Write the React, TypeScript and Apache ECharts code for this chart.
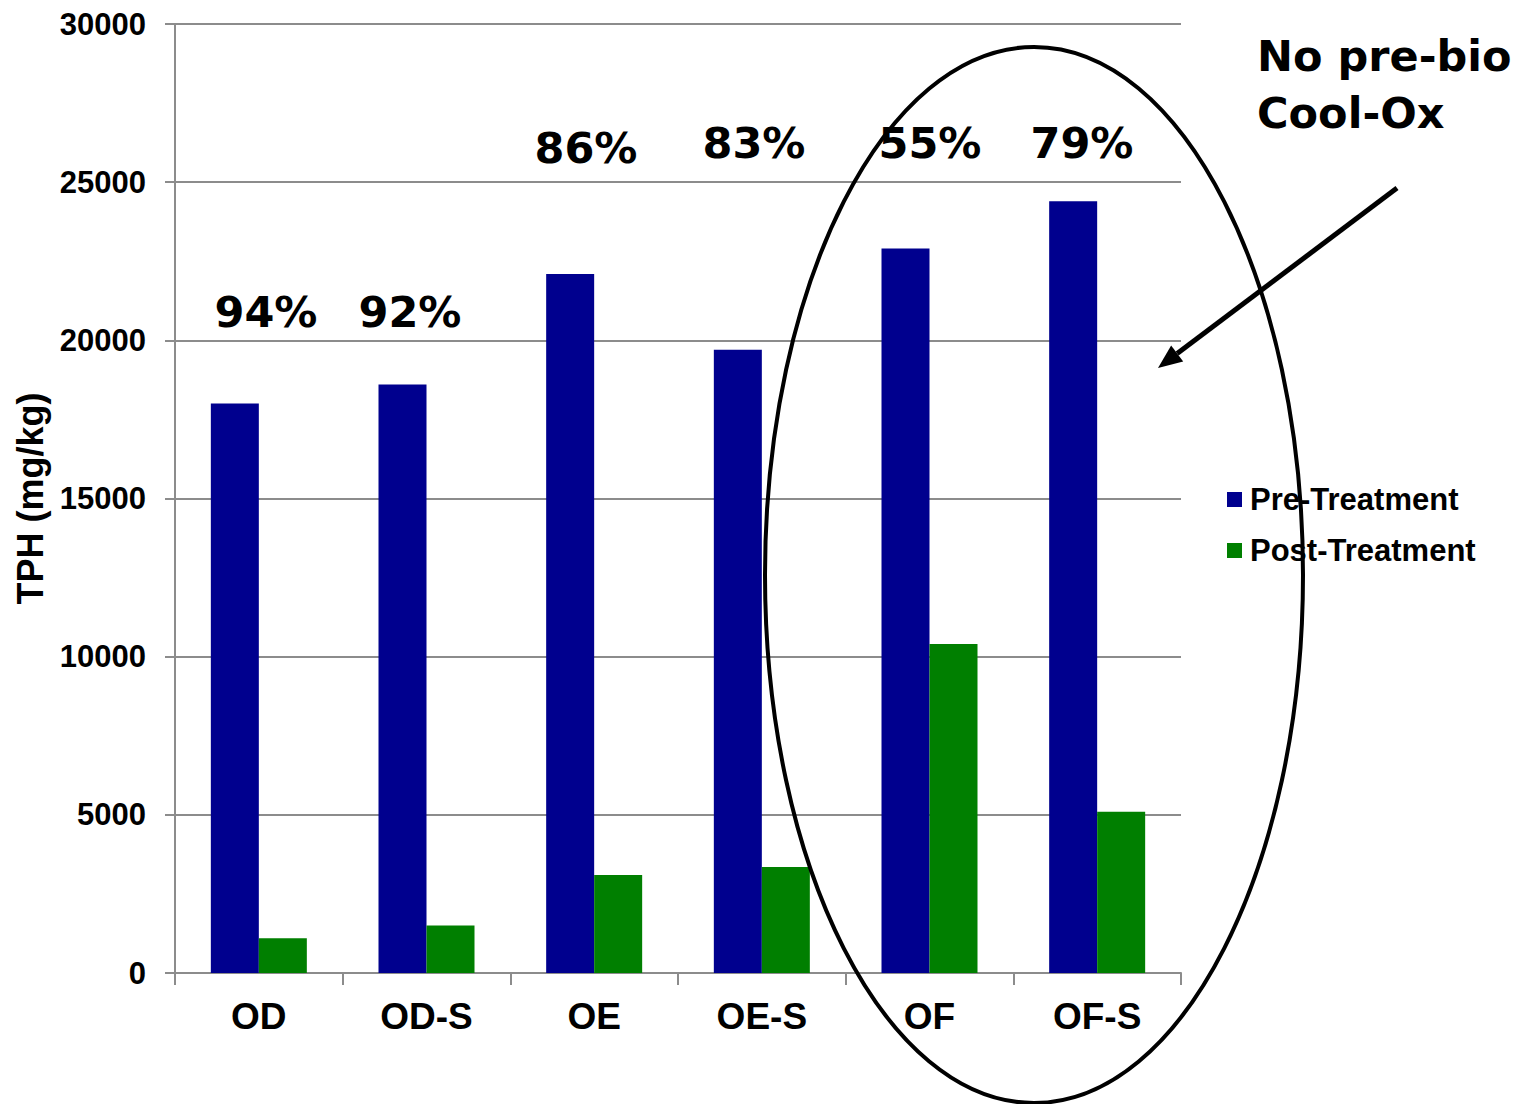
import React, { useEffect, useRef } from "react";
import * as echarts from "echarts";

// Samples and their TPH before / after treatment (mg/kg)
const categories = ["OD", "OD-S", "OE", "OE-S", "OF", "OF-S"];
const preTreatment = [18000, 18600, 22100, 19700, 22900, 24400];
const postTreatment = [1100, 1500, 3100, 3350, 10400, 5100];
const yMin = 0;
const yMax = 30000;
const yStep = 5000;
const seriesNames = ["Pre-Treatment", "Post-Treatment"];
const noteLines = ["No pre-bio", "Cool-Ox"];

// Percent reduction for each sample
const reductions = preTreatment.map(
  (pre, i) => Math.round((1 - postTreatment[i] / pre) * 100) + "%"
);

// Where each reduction label sits on the page (pixel centres)
const reductionLabelSpots: [number, number][] = [
  [266, 312],
  [410, 312],
  [586, 148],
  [754, 143],
  [930, 143],
  [1082, 143],
];

const sansFont = "'Liberation Sans', Arial, sans-serif";
const handFont = "'DejaVu Sans', sans-serif";

export default function App() {
  const ref = useRef<HTMLDivElement>(null);

  useEffect(() => {
    if (!ref.current) return;
    const chart = echarts.init(ref.current, null, { renderer: "svg" });

    // arrow pointing into the circled samples
    const tail = [1397, 188];
    const tip = [1158, 368];
    const dx = tip[0] - tail[0];
    const dy = tip[1] - tail[1];
    const len = Math.hypot(dx, dy);
    const ux = dx / len;
    const uy = dy / len;
    const headLen = 24;
    const headHalf = 10;
    const base = [tip[0] - ux * headLen, tip[1] - uy * headLen];
    const px = -uy * headHalf;
    const py = ux * headHalf;

    const reductionTexts = reductions.map((txt, i) => ({
      type: "text",
      x: reductionLabelSpots[i][0],
      y: reductionLabelSpots[i][1],
      z: 100,
      style: {
        text: txt,
        fontSize: 43,
        fontWeight: "bold",
        fontFamily: handFont,
        fill: "#000",
        textAlign: "center",
        textVerticalAlign: "middle",
      },
    }));

    chart.setOption({
      animation: false,
      backgroundColor: "#fff",
      grid: { left: 175, right: 349, top: 24, bottom: 131, containLabel: false },
      legend: {
        orient: "vertical",
        left: 1222,
        top: 479,
        itemWidth: 15,
        itemHeight: 15,
        itemGap: 20,
        icon: "rect",
        data: seriesNames,
        textStyle: {
          fontSize: 31,
          fontWeight: "bold",
          fontFamily: sansFont,
          color: "#000",
          padding: [0, 0, 0, 3],
        },
      },
      xAxis: {
        type: "category",
        data: categories,
        axisLine: { show: true, lineStyle: { color: "#8c8c8c", width: 2 } },
        axisTick: { show: true, length: 12, lineStyle: { color: "#8c8c8c", width: 2 } },
        axisLabel: {
          fontSize: 37,
          fontWeight: "bold",
          fontFamily: sansFont,
          color: "#000",
          margin: 25,
        },
      },
      yAxis: {
        type: "value",
        min: yMin,
        max: yMax,
        interval: yStep,
        name: "TPH (mg/kg)",
        nameLocation: "middle",
        nameRotate: 90,
        nameGap: 124,
        nameTextStyle: {
          fontSize: 36,
          fontWeight: "bold",
          fontFamily: sansFont,
          color: "#000",
        },
        axisLine: { show: true, lineStyle: { color: "#8c8c8c", width: 2 } },
        axisTick: { show: true, length: 10, lineStyle: { color: "#8c8c8c", width: 2 } },
        splitLine: { show: true, lineStyle: { color: "#8c8c8c", width: 2 } },
        axisLabel: {
          fontSize: 31,
          fontWeight: "bold",
          fontFamily: sansFont,
          color: "#000",
          margin: 29,
          formatter: (v: number) => String(v),
        },
      },
      series: [
        {
          name: seriesNames[0],
          type: "bar",
          data: preTreatment,
          barWidth: 48,
          barGap: "0%",
          itemStyle: { color: "#00008e" },
        },
        {
          name: seriesNames[1],
          type: "bar",
          data: postTreatment,
          barWidth: 48,
          barGap: "0%",
          itemStyle: { color: "#007f00" },
        },
      ],
      graphic: [
        ...reductionTexts,
        {
          type: "ellipse",
          z: 100,
          shape: { cx: 1034, cy: 575, rx: 269, ry: 528 },
          style: { fill: "none", stroke: "#000", lineWidth: 4 },
        },
        {
          type: "line",
          z: 100,
          shape: { x1: tail[0], y1: tail[1], x2: base[0], y2: base[1] },
          style: { stroke: "#000", lineWidth: 5 },
        },
        {
          type: "polygon",
          z: 100,
          shape: {
            points: [
              tip,
              [base[0] + px, base[1] + py],
              [base[0] - px, base[1] - py],
            ],
          },
          style: { fill: "#000" },
        },
        {
          type: "text",
          x: 1257,
          y: 56,
          z: 100,
          style: {
            text: noteLines[0],
            fontSize: 43,
            fontWeight: "bold",
            fontFamily: handFont,
            fill: "#000",
            textAlign: "left",
            textVerticalAlign: "middle",
          },
        },
        {
          type: "text",
          x: 1257,
          y: 113,
          z: 100,
          style: {
            text: noteLines[1],
            fontSize: 43,
            fontWeight: "bold",
            fontFamily: handFont,
            fill: "#000",
            textAlign: "left",
            textVerticalAlign: "middle",
          },
        },
      ],
    });

    return () => chart.dispose();
  }, []);

  return (
    <div
      ref={ref}
      style={{ position: "absolute", left: 0, top: 0, width: 1530, height: 1104 }}
    />
  );
}
